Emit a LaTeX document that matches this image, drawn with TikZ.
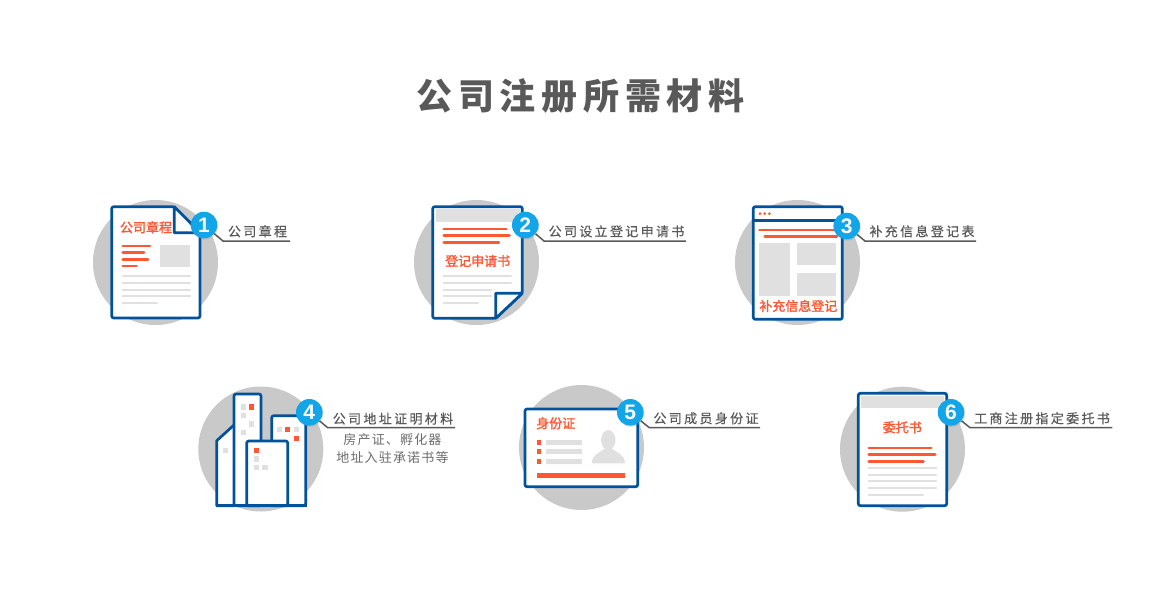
\documentclass[tikz,border=0pt]{standalone}
\usepackage{fontspec}
\setmainfont{Liberation Sans}
\newfontfamily\cjkname[FakeBold=1.6]{Noto Sans CJK SC}
\newfontfamily\cjklabel[LetterSpace=18,FakeBold=0.45]{Noto Sans CJK SC}
\newfontfamily\cjksub[LetterSpace=9]{Noto Sans CJK SC}
\newfontfamily\cjktitle[LetterSpace=16]{Noto Sans CJK SC}
\usetikzlibrary{shadows}
\definecolor{docblue}{RGB}{0,82,155}
\definecolor{badgeblue}{RGB}{18,165,232}
\definecolor{discgrey}{RGB}{201,201,201}
\definecolor{palegrey}{RGB}{224,224,224}
\definecolor{hotred}{RGB}{255,86,51}
\definecolor{inkgrey}{RGB}{89,89,89}
\tikzset{
  disc/.style={fill=discgrey},
  sheet/.style={draw=docblue, fill=white, line width=2.7pt, rounded corners=2pt, line join=round},
  fold/.style={draw=docblue, fill=white, line width=2.7pt, line join=round},
  redline/.style={draw=hotred, line width=2.8pt, line cap=round},
  greyline/.style={draw=palegrey, line width=2.3pt, line cap=round},
  greybox/.style={fill=palegrey},
  doctitle/.style={text=hotred, inner sep=0pt, font=\cjkname\fontsize{13}{13}\selectfont},
  steplabel/.style={text=inkgrey, inner sep=0pt, font=\cjklabel\fontsize{13}{13}\selectfont},
  subtext/.style={text=black!58, inner sep=0pt, font=\cjksub\fontsize{13}{13}\selectfont},
  badge/.style={circle, fill=badgeblue, text=white, minimum size=26.6pt, inner sep=0pt,
    font=\bfseries\fontsize{21}{21}\selectfont, drop shadow={shadow xshift=.6pt, shadow yshift=-1.2pt, opacity=.25}},
  leader/.style={draw=inkgrey, line width=1.5pt}
}
\begin{document}
\begin{tikzpicture}[x=1pt,y=-1pt]
\useasboundingbox (0,0) rectangle (1160,600);
\node[text=inkgrey, inner sep=0pt, font=\cjktitle\bfseries\fontsize{36}{36}\selectfont] (title) at (580.5,96) {公司注册所需材料};

% 1
\fill[disc] (155.5,262.5) circle (62.5);
\draw[sheet] (111.7,206.7)--(174.3,206.7)--(200,232.7)--(200,318)--(111.7,318)--cycle;
\draw[fold] (174.3,206.7)--(174.3,232.7)--(200,232.7)--cycle;
\node[doctitle] (name1) at (146,227.3) {公司章程};
\draw[redline] (122.8,246)--(150,246);
\draw[redline] (122.8,252.7)--(144,252.7);
\draw[redline] (122.8,259.3)--(148,259.3);
\draw[redline] (122.8,266)--(136.5,266);
\fill[greybox] (160,245) rectangle (190,267.3);
\foreach \y/\x in {276.3/190,283/190,289.7/190,296.3/190,303/157}
  \draw[greyline] (122.8,\y)--(\x,\y);
\node[badge] (badge1) at (204,225) {1};
\coordinate (elbow1) at (223,241);
\coordinate (end1) at (290,241);
\draw[leader] (badge1)--(elbow1)--(end1);
\node[steplabel] (label1) at (257.5,231.3) {公司章程};

% 2
\fill[disc] (476.5,262.5) circle (62.5);
\draw[sheet] (432.7,206.7)--(522.3,206.7)--(522.3,293.3)--(495.7,318.3)--(432.7,318.3)--cycle;
\fill[greybox] (435.7,209.3) rectangle (520,221.7);
\draw[fold] (522.3,293.3)--(495.7,293.3)--(495.7,318.3)--cycle;
\draw[redline] (443.8,229)--(506.2,229);
\draw[redline] (443.8,235.7)--(509.5,235.7);
\draw[redline] (443.8,242.3)--(498.8,242.3);
\node[doctitle] (name2) at (477.7,261) {登记申请书};
\foreach \y/\x in {276.3/511,283/511,289.7/491,296.3/491,303/478}
  \draw[greyline] (443.8,\y)--(\x,\y);
\node[badge] (badge2) at (525.3,225) {2};
\coordinate (elbow2) at (544,241);
\coordinate (end2) at (686,241);
\draw[leader] (badge2)--(elbow2)--(end2);
\node[steplabel] (label2) at (616.5,231.3) {公司设立登记申请书};

% 3
\fill[disc] (797.5,262.5) circle (62.5);
\draw[sheet] (753.3,206.7) rectangle (842.3,319.3);
\draw[docblue, line width=2.7pt] (753.3,220.7)--(842.3,220.7);
\foreach \x in {760,764.7,769.3}
  \fill[hotred] (\x,213.7) circle (1.5);
\draw[redline] (759.5,230)--(834.5,230);
\draw[redline] (764.8,236.7)--(836.8,236.7);
\fill[greybox] (759.3,242.7) rectangle (790,296);
\fill[greybox] (796.7,242.7) rectangle (836,265.3);
\fill[greybox] (796.7,273.3) rectangle (836,296);
\node[doctitle] (name3) at (798.3,306) {补充信息登记};
\node[badge] (badge3) at (846.7,226) {3};
\coordinate (elbow3) at (865,241);
\coordinate (end3) at (976,241);
\draw[leader] (badge3)--(elbow3)--(end3);
\node[steplabel] (label3) at (922,231.3) {补充信息登记表};

% 4
\fill[disc] (260.8,449) circle (62.5);
\draw[sheet, rounded corners=0pt] (234,425)--(216.7,440.7)--(216.7,505.7)--(234,505.7);
\draw[sheet] (271.7,505.7)--(271.7,415.7)--(305.7,415.7)--(305.7,505.7)--cycle;
\draw[sheet] (234,505.7)--(234,394)--(261,394)--(261,505.7)--cycle;
\draw[sheet] (246.7,505.7)--(246.7,441)--(287.7,441)--(287.7,505.7)--cycle;
\draw[docblue, line width=2.7pt] (216,505.7)--(306.5,505.7);
\foreach \x/\y in {243.3/407,243.3/415.7,251.7/424,243.3/432.3,225.3/450.7,279.3/429.7,296.3/429.7,256.7/459,256.7/467.7,265/467.7}
  \fill[greybox] (\x-2.7,\y-2.7) rectangle (\x+2.7,\y+2.7);
\foreach \x/\y in {251.7/407,287.7/429.7,296.3/438.3,256.7/450.3}
  \fill[hotred] (\x-2.7,\y-2.7) rectangle (\x+2.7,\y+2.7);
\node[badge] (badge4) at (309.3,412.3) {4};
\coordinate (elbow4) at (327.7,427.7);
\coordinate (end4) at (455,427.7);
\draw[leader] (badge4)--(elbow4)--(end4);
\node[steplabel] (label4) at (393,418.7) {公司地址证明材料};
\node[subtext] (note4a) at (392.5,440) {房产证、孵化器};
\node[subtext] (note4b) at (392.5,457.3) {地址入驻承诺书等};

% 5
\fill[disc] (581.5,447.5) circle (62.5);
\draw[sheet] (525,409) rectangle (637.7,486.7);
\node[doctitle] (name5) at (555.7,423.3) {身份证};
\foreach \y in {442.3,451.7,461.3} {
  \fill[hotred] (536.8,\y-2.3) rectangle (541.2,\y+2.3);
  \fill[greybox] (546.3,\y-2.3) rectangle (582.3,\y+2.3);
}
\fill[greybox] (608.3,440) ellipse (7.2 and 10);
\fill[greybox] (591.7,463.3) .. controls (592,454) and (600,453) .. (604,449)
  -- (612.5,449) .. controls (617,453) and (624.5,454) .. (625,463.3) -- cycle;
\fill[hotred] (536.7,473.3) rectangle (625,478.3);
\node[badge] (badge5) at (630.3,412.3) {5};
\coordinate (elbow5) at (649.3,427.7);
\coordinate (end5) at (760,427.7);
\draw[leader] (badge5)--(elbow5)--(end5);
\node[steplabel] (label5) at (706,418.3) {公司成员身份证};

% 6
\fill[disc] (902.5,449.2) circle (62.5);
\draw[sheet] (858.3,393.3) rectangle (946.7,505.7);
\fill[greybox] (861,396) rectangle (944.3,408.3);
\node[doctitle] (name6) at (902.3,427.3) {委托书};
\draw[redline] (868.8,448)--(931.2,448);
\draw[redline] (868.8,454.7)--(935.2,454.7);
\draw[redline] (868.8,461.3)--(923.5,461.3);
\foreach \y/\x in {468/936,474.7/936,481.3/936,488/936,494.7/923}
  \draw[greyline] (868.8,\y)--(\x,\y);
\node[badge] (badge6) at (951,412.3) {6};
\coordinate (elbow6) at (970,427.7);
\coordinate (end6) at (1112.3,427.7);
\draw[leader] (badge6)--(elbow6)--(end6);
\node[steplabel] (label6) at (1042,418.3) {工商注册指定委托书};
\end{tikzpicture}
\end{document}
